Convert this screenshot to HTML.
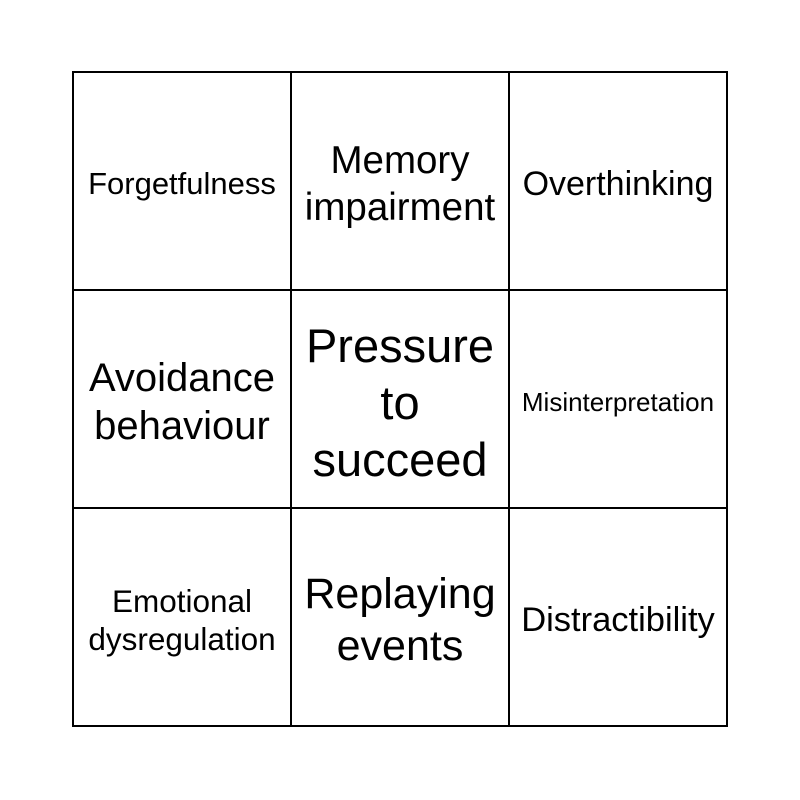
<!DOCTYPE html>
<html><head><style>
body{margin:0;width:800px;height:800px;background:#fff;font-family:"Liberation Sans",Arial,sans-serif;position:relative;overflow:hidden}
.c{position:absolute;width:216px;height:216px;box-sizing:border-box;padding-top:6px;display:flex;align-items:center;justify-content:center;text-align:center;color:#000;}
.h{position:absolute;left:72px;width:656px;height:2px;background:#000}
.v{position:absolute;top:71px;width:2px;height:656px;background:#000}
</style></head><body>
<div class="h" style="top:71px"></div><div class="h" style="top:289px"></div><div class="h" style="top:507px"></div><div class="h" style="top:725px"></div>
<div class="v" style="left:72px"></div><div class="v" style="left:290px"></div><div class="v" style="left:508px"></div><div class="v" style="left:726px"></div>
<div class="c" style="left:74px;top:73px;font-size:31px;line-height:36px">Forgetfulness</div>
<div class="c" style="left:292px;top:73px;font-size:38.5px;line-height:47px">Memory<br>impairment</div>
<div class="c" style="left:510px;top:73px;font-size:34px;line-height:38px">Overthinking</div>
<div class="c" style="left:74px;top:291px;font-size:40px;line-height:48px">Avoidance<br>behaviour</div>
<div class="c" style="left:292px;top:291px;font-size:47px;line-height:57px">Pressure<br>to<br>succeed</div>
<div class="c" style="left:510px;top:291px;font-size:26px;line-height:30px">Misinterpretation</div>
<div class="c" style="left:74px;top:509px;font-size:31.5px;line-height:38px">Emotional<br>dysregulation</div>
<div class="c" style="left:292px;top:509px;font-size:43px;line-height:52px">Replaying<br>events</div>
<div class="c" style="left:510px;top:509px;font-size:34.5px;line-height:38px">Distractibility</div>
</body></html>
